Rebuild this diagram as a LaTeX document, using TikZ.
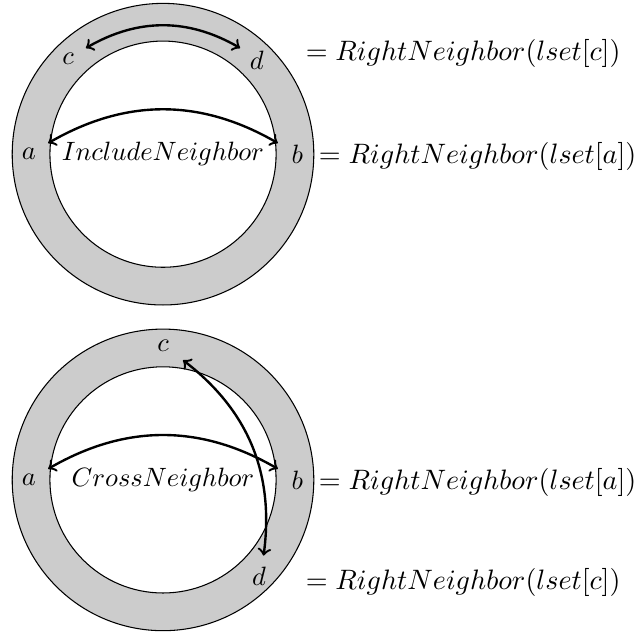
\documentclass[tikz,border=0pt]{standalone}
\usepackage{graphicx}
\newcommand{\eqbig}[1]{\scalebox{1.06}{#1}}
\begin{document}
\begin{tikzpicture}[
  ringfill/.style={fill=gray!40, even odd rule},
  ringline/.style={draw=black, line width=0.4pt},
  arr/.style={line width=0.9pt, <->},
  eqtext/.style={anchor=base west}
]
\useasboundingbox (-2.162,2.045) rectangle (6.313,-6.413);
% ---------- top ring ----------
\begin{scope}
  \path[ringfill] (0,0) circle (2) (0,0) circle (1.5);
  \draw[ringline] (0,0) circle (2);
  \draw[ringline] (0,0) circle (1.5);
  \node (a1) at (180:1.78) {$a$};
  \node (b1) at (0:1.78) {$b$};
  \node (c1) at (135:1.78) {$c$};
  \node (d1) at (45:1.76) {$d$};
  \node (inc) at (0,0) {$IncludeNeighbor$};
  \coordinate (pa1) at (174.5:1.53);
  \coordinate (pb1) at (5.5:1.53);
  \coordinate (pc1) at (126:1.74);
  \coordinate (pd1) at (54:1.74);
  \draw[arr] (pa1) to[bend left=30] (pb1);
  \draw[arr] (pc1) to[bend left=30] (pd1);
  \node[eqtext, xshift=-1pt] (eq1) at (b1.base east) {\eqbig{$= RightNeighbor(lset[a])$}};
  \node[eqtext] (eq2) at (1.77,1.247) {\eqbig{$= RightNeighbor(lset[c])$}};
\end{scope}
% ---------- bottom ring ----------
\begin{scope}[shift={(0,-4.32)}]
  \path[ringfill] (0,0) circle (2) (0,0) circle (1.5);
  \draw[ringline] (0,0) circle (2);
  \draw[ringline] (0,0) circle (1.5);
  \node (a2) at (180:1.78) {$a$};
  \node (b2) at (0:1.78) {$b$};
  \node (c2) at (90:1.78) {$c$};
  \node (d2) at (-45:1.80) {$d$};
  \node (crs) at (0,0) {$CrossNeighbor$};
  \coordinate (pa2) at (174.5:1.53);
  \coordinate (pb2) at (5.5:1.53);
  \coordinate (pc2) at (80.5:1.61);
  \coordinate (pd2) at (-37:1.67);
  \draw[arr] (pa2) to[bend left=30] (pb2);
  \draw[arr] (pc2) to[bend left=30] (pd2);
  \node[eqtext, xshift=-1pt] (eq3) at (b2.base east) {\eqbig{$= RightNeighbor(lset[a])$}};
  \node[eqtext] (eq4) at (1.77,-1.459) {\eqbig{$= RightNeighbor(lset[c])$}};
\end{scope}
\end{tikzpicture}
\end{document}
